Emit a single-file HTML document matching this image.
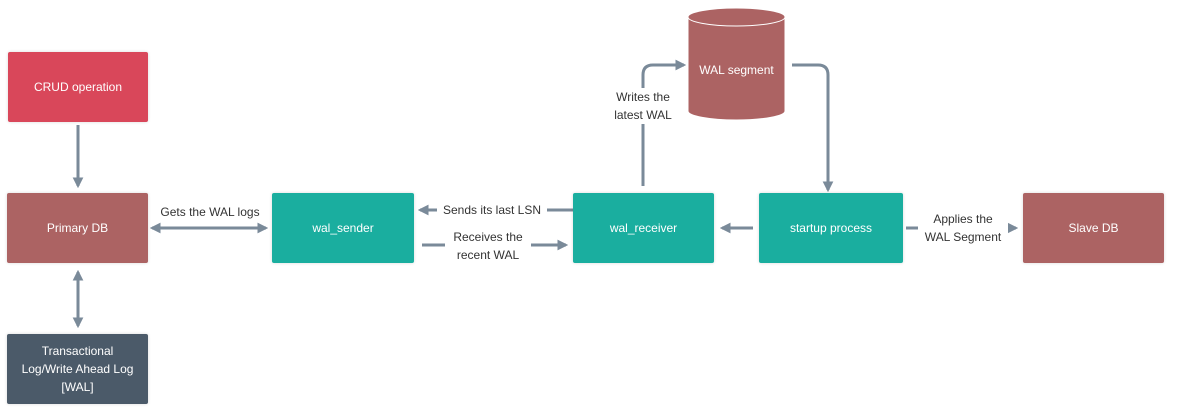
<!DOCTYPE html>
<html><head><style>
body{margin:0;width:1200px;height:412px;background:#fff;overflow:hidden;position:relative;font-family:"Liberation Sans",sans-serif}
.b{position:absolute;display:flex;align-items:center;justify-content:center;text-align:center;color:#fff;font-size:12px;line-height:18px;border-radius:2px;box-shadow:0 0 3px rgba(0,0,0,.15)}
.l{position:absolute;font-size:12px;line-height:18px;color:#333;text-align:center;background:#fff;white-space:nowrap}
</style></head><body>
<svg width="1200" height="412" style="position:absolute;left:0;top:0">
<defs><marker id="a" viewBox="0 0 10 10" refX="8" refY="5" markerWidth="3.6" markerHeight="3.6" orient="auto-start-reverse"><path d="M0,0L10,5L0,10z" fill="#7a8a99"/></marker></defs>
<g stroke="#7a8a99" stroke-width="3" fill="none">
<path d="M78 125V186" marker-end="url(#a)"/>
<path d="M78 272V326" marker-start="url(#a)" marker-end="url(#a)"/>
<path d="M152 228H266" marker-start="url(#a)" marker-end="url(#a)"/>
<path d="M573 210H420" marker-end="url(#a)"/>
<path d="M422 245H566" marker-end="url(#a)"/>
<path d="M643 186V75Q643 65 653 65H684" marker-end="url(#a)"/>
<path d="M792 65H818Q828 65 828 75V190" marker-end="url(#a)"/>
<path d="M753 228H722" marker-end="url(#a)"/>
<path d="M906 228H1016" marker-end="url(#a)"/>
</g>
<path d="M688 17V111A48.5 9 0 0 0 785 111V17" fill="#ac6363" stroke="#fff" stroke-width="1"/>
<ellipse cx="736.5" cy="17" rx="48.5" ry="9" fill="#ac6363" stroke="#fff" stroke-width="1"/>
<text x="736.5" y="74" fill="#fff" font-size="12" text-anchor="middle" font-family="Liberation Sans">WAL segment</text>
</svg>
<div class="b" style="left:8px;top:52px;width:140px;height:70px;background:#d9475a">CRUD operation</div>
<div class="b" style="left:7px;top:193px;width:141px;height:70px;background:#ac6363">Primary DB</div>
<div class="b" style="left:7px;top:334px;width:141px;height:70px;background:#4b5a69">Transactional<br>Log/Write Ahead Log<br>[WAL]</div>
<div class="b" style="left:272px;top:193px;width:142px;height:70px;background:#1aae9f">wal_sender</div>
<div class="b" style="left:573px;top:193px;width:141px;height:70px;background:#1aae9f">wal_receiver</div>
<div class="b" style="left:759px;top:193px;width:144px;height:70px;background:#1aae9f">startup process</div>
<div class="b" style="left:1023px;top:193px;width:141px;height:70px;background:#ac6363">Slave DB</div>
<div class="l" style="left:155px;top:203px;width:110px">Gets the WAL logs</div>
<div class="l" style="left:437px;top:201px;width:110px;background:#fff">Sends its last LSN</div>
<div class="l" style="left:445px;top:228px;width:86px">Receives the<br>recent WAL</div>
<div class="l" style="left:605px;top:88px;width:76px">Writes the<br>latest WAL</div>
<div class="l" style="left:918px;top:210px;width:90px">Applies the<br>WAL Segment</div>
</body></html>
